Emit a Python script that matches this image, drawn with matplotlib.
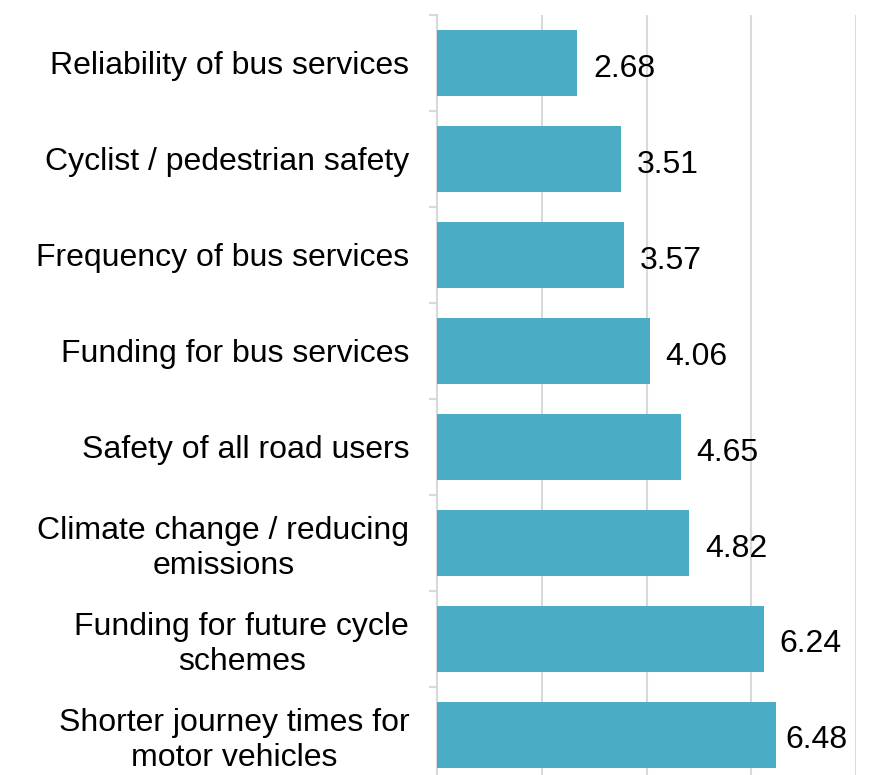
import numpy as np
import matplotlib.pyplot as plt
from matplotlib.ticker import FixedLocator

plt.rcParams['font.family'] = ['Liberation Sans', 'DejaVu Sans']

# data
categories = [
    "Reliability of bus services",
    "Cyclist / pedestrian safety",
    "Frequency of bus services",
    "Funding for bus services",
    "Safety of all road users",
    "Climate change / reducing\nemissions",
    "Funding for future cycle\nschemes",
    "Shorter journey times for\nmotor vehicles",
]
scores = [2.68, 3.51, 3.57, 4.06, 4.65, 4.82, 6.24, 6.48]

bar_color = "#4BACC6"
grid_color = "#D9D9D9"

fig = plt.figure(figsize=(8.84, 7.75), dpi=100)
ax = fig.add_axes([437 / 884, 0, (856 - 437) / 884, 1 - 15 / 775])

y = np.arange(len(categories))
bars = ax.barh(y, scores, height=0.69, color=bar_color, zorder=3)

for i, (b, v) in enumerate(zip(bars, scores)):
    # last label sits closer to its bar so it stays inside the frame
    gap = 0.17 if i == len(scores) - 1 else 0.3
    ax.text(b.get_width() + gap, b.get_y() + b.get_height() / 2 + 0.06, f"{v:.2f}",
            va="center", ha="left", fontsize=23, color="black")

ax.set_xlim(0, 8)
ax.set_ylim(7.42, -0.5)
ax.set_xticks([0, 2, 4, 6, 8])
ax.set_xticklabels([])
ax.tick_params(axis="x", length=0)
ax.grid(axis="x", color=grid_color, linewidth=1.5, zorder=0)

ax.set_yticks(y)
ax.set_yticklabels(categories, fontsize=23, multialignment="center", linespacing=1.2)
ax.tick_params(axis="y", which="major", length=0, pad=20)
ax.yaxis.set_minor_locator(FixedLocator(np.arange(-0.5, 8, 1)))
ax.tick_params(axis="y", which="minor", length=6, width=1.5, color=grid_color)

for s in ["top", "right", "bottom"]:
    ax.spines[s].set_visible(False)
ax.spines["left"].set_color(grid_color)
ax.spines["left"].set_linewidth(1.5)

fig.savefig("out.png", dpi=100)
